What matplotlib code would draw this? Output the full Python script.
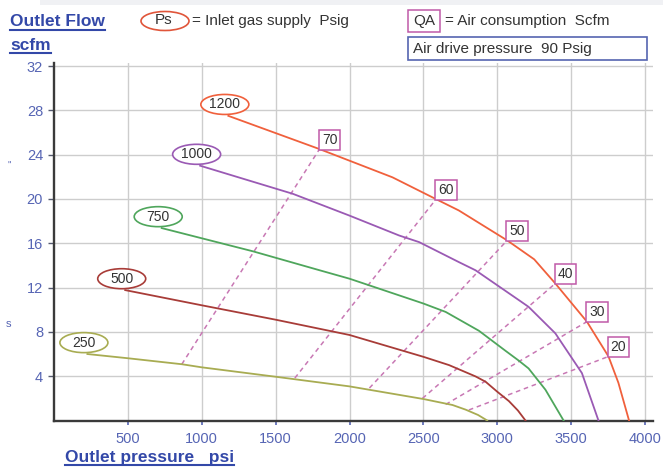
import matplotlib
matplotlib.use('Agg')
import matplotlib.pyplot as plt
from matplotlib.patches import Ellipse, Rectangle
from matplotlib.lines import Line2D

plt.rcParams['font.family'] = ['Liberation Sans', 'DejaVu Sans']

# ---------------- data ----------------
ps_labels = ['1200', '1000', '750', '500', '250']

p1200_x = [1180, 1797, 2291, 2583, 2740, 3067, 3250, 3393, 3607, 3753, 3820, 3892]
p1200_y = [27.5, 24.5, 21.95, 20.0, 18.96, 16.26, 14.55, 12.37, 8.92, 5.78, 3.4, 0.0]

p1000_x = [989, 1617, 1999, 2336, 2472, 2740, 2853, 3146, 3212, 3393, 3573, 3685]
p1000_y = [23.0, 20.46, 18.5, 16.7, 16.1, 14.3, 13.56, 10.87, 10.26, 7.87, 4.28, 0.0]

p750_x = [729, 1347, 1798, 2000, 2500, 2651, 2876, 3055, 3146, 3212, 3326, 3449]
p750_y = [17.37, 15.27, 13.56, 12.8, 10.56, 9.8, 8.1, 6.3, 5.4, 4.7, 2.78, 0.0]

p500_x = [482, 1000, 1500, 2000, 2500, 2674, 2853, 2921, 3000, 3079, 3140, 3191]
p500_y = [11.77, 10.4, 9.1, 7.72, 5.75, 5.0, 3.98, 3.5, 2.6, 1.75, 0.9, 0.0]

p250_x = [226, 500, 865, 1000, 1500, 2000, 2500, 2697, 2786, 2870, 2932]
p250_y = [6.0, 5.62, 5.08, 4.8, 3.95, 3.08, 1.94, 1.4, 0.98, 0.5, 0.0]

qa_labels = ['70', '60', '50', '40', '30', '20']
qa_low_x = [865, 1630, 2135, 2494, 2651, 2808]
qa_low_y = [5.08, 3.83, 2.93, 2.0, 1.45, 0.95]
qa_high_x = [1797, 2584, 3067, 3393, 3607, 3753]
qa_high_y = [24.5, 19.95, 16.26, 12.37, 8.92, 5.78]

x_ticks = [500, 1000, 1500, 2000, 2500, 3000, 3500, 4000]
y_ticks = [4, 8, 12, 16, 20, 24, 28, 32]

# ---------------- styles ----------------
W, H = 663, 469
curve_colors = ['#f0603c', '#9a5ab4', '#4fa65c', '#a83c38', '#a8ac52']
qa_color = '#c878b4'
qa_edge = '#c05aa8'
tick_blue = '#5665b4'
title_blue = '#3348a8'
text_dark = '#333333'

fig = plt.figure(figsize=(W / 100, H / 100), dpi=100)
fig.patch.set_facecolor('white')

# faint top band
fig.add_artist(Rectangle((40 / W, 1 - 5 / H), 1, 5 / H, transform=fig.transFigure,
                         facecolor='#f0f1f4', edgecolor='none', zorder=0))

ax_left, ax_right = 54, 653
ax_bottom = 420.5
ppu_y = (420.5 - 66) / 32
ymax = 32.3
ax = fig.add_axes([ax_left / W, (H - ax_bottom) / H, (ax_right - ax_left) / W, ymax * ppu_y / H])
ax.set_xlim(0, (ax_right - ax_left) / ((645 - 54) / 4000))
ax.set_ylim(0, ymax)
ax.set_xticks(x_ticks)
ax.set_yticks(y_ticks)
ax.grid(True, color='#cdcdcd', lw=1.0)
ax.set_axisbelow(True)
for s in ['top', 'right']:
    ax.spines[s].set_visible(False)
for s in ['left', 'bottom']:
    ax.spines[s].set_color('#3a3a3a')
    ax.spines[s].set_linewidth(1.7)
ax.tick_params(axis='y', direction='out', length=4.3, width=1, color='#555a70',
               labelcolor=tick_blue, labelsize=10.5, pad=3.6)
ax.tick_params(axis='x', direction='out', length=3, width=1.2, color=tick_blue,
               labelcolor=tick_blue, labelsize=10.5, pad=5)
ax.set_facecolor('white')

curves_x = [p1200_x, p1000_x, p750_x, p500_x, p250_x]
curves_y = [p1200_y, p1000_y, p750_y, p500_y, p250_y]

# dashed QA lines
for lx, ly, hx, hy in zip(qa_low_x, qa_low_y, qa_high_x, qa_high_y):
    ax.plot([lx, hx], [ly, hy], color=qa_color, lw=1.1, ls=(0, (3, 2.5)), zorder=2)

# Ps curves
sx = ax.get_xlim()[1] / (ax_right - ax_left)
sy = ymax / (ymax * ppu_y)
for cx, cy, col, lab in zip(curves_x, curves_y, curve_colors, ps_labels):
    ax.plot(cx, cy, color=col, lw=1.3, zorder=3, solid_joinstyle='round')
    ex = cx[0] - 3.5 * sx
    ey = cy[0] + 11.4 * sy
    ax.add_patch(Ellipse((ex, ey), 48 * sx, 20 * sy, facecolor='white',
                         edgecolor=col, lw=1.2, zorder=4))
    ax.text(ex, ey, lab, ha='center', va='center', fontsize=10, color=text_dark, zorder=5)

# QA boxes
for lab, hx, hy in zip(qa_labels, qa_high_x, qa_high_y):
    ax.annotate(lab, (hx, hy), xytext=(10, 9.5), textcoords='offset pixels',
                ha='center', va='center', fontsize=10, color=text_dark, zorder=6,
                bbox=dict(boxstyle='square,pad=0.22', facecolor='white',
                          edgecolor=qa_edge, lw=1.1))

# ---------------- titles & legend ----------------
def fx(px):
    return px / W

def fy(py):
    return 1 - py / H

renderer = fig.canvas.get_renderer()

def underlined(px, py_base, s, size, ul_gap=3.5):
    t = fig.text(fx(px), fy(py_base), s, ha='left', va='baseline', fontsize=size,
                 fontweight='bold', color=title_blue)
    bb = t.get_window_extent(renderer)
    yl = (H - py_base - ul_gap) / H
    fig.add_artist(Line2D([bb.x0 / W, bb.x1 / W], [yl, yl], transform=fig.transFigure,
                          color=title_blue, lw=1.5))
    return t

underlined(10, 26.5, 'Outlet Flow', 12.5)
underlined(10, 49.5, 'scfm', 12.5)
underlined(65, 461.5, 'Outlet pressure   psi', 12.5)

# Ps legend
fig.add_artist(Ellipse((fx(165), fy(21)), 48 / W, 19 / H, transform=fig.transFigure,
                       facecolor='none', edgecolor='#e0553a', lw=1.2))
fig.text(fx(164), fy(20.5), 'Ps', ha='center', va='center', fontsize=11, color=text_dark)
fig.text(fx(192), fy(20.5), '= Inlet gas supply  Psig', ha='left', va='center',
         fontsize=11, color=text_dark)

# QA legend
fig.add_artist(Rectangle((fx(408), fy(32)), 32 / W, 22 / H, transform=fig.transFigure,
                         facecolor='none', edgecolor=qa_edge, lw=1.1))
fig.text(fx(424), fy(20.5), 'QA', ha='center', va='center', fontsize=11, color=text_dark)
fig.text(fx(445), fy(20.5), '= Air consumption  Scfm', ha='left', va='center',
         fontsize=11, color=text_dark)

fig.add_artist(Rectangle((fx(408), fy(60)), 239 / W, 23 / H, transform=fig.transFigure,
                         facecolor='white', edgecolor='#5565b0', lw=1.2))
fig.text(fx(413), fy(48.5), 'Air drive pressure  90 Psig', ha='left', va='center',
         fontsize=11, color=text_dark)

# stray left-edge marks
fig.text(fx(7), fy(166), '"', fontsize=7, color=tick_blue, ha='left', va='center')
fig.text(fx(6), fy(324), 's', fontsize=8, color=tick_blue, ha='left', va='center')

fig.savefig('out.png', dpi=100)
